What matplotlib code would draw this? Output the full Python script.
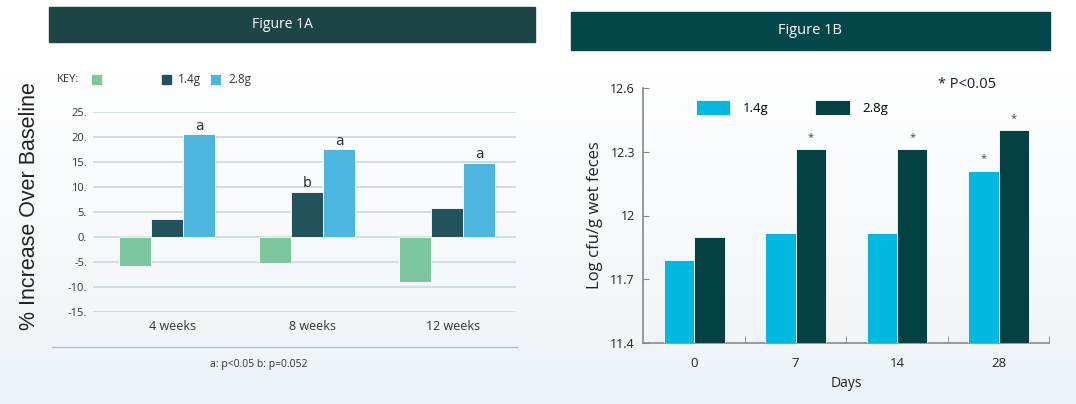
import numpy as np
import matplotlib
matplotlib.use("Agg")
import matplotlib.pyplot as plt
from matplotlib.patches import Rectangle
from matplotlib.lines import Line2D

plt.rcParams['font.family'] = ['Open Sans', 'DejaVu Sans']

# Figure 1A data: % increase over baseline
weeks = ["4 weeks", "8 weeks", "12 weeks"]
control = [-5.8, -5.3, -9.0]
dose_14 = [3.5, 9.0, 5.7]
dose_28 = [20.5, 17.5, 14.8]
marks_14 = ["", "b", ""]
marks_28 = ["a", "a", "a"]
yticks_a = [-15, -10, -5, 0, 5, 10, 15, 20, 25]

# Figure 1B data: log cfu/g wet feces
days = ["0", "7", "14", "28"]
log_14 = [11.79, 11.92, 11.92, 12.21]
log_28 = [11.90, 12.31, 12.31, 12.40]
star_14 = ["", "", "", "*"]
star_28 = ["", "*", "*", "*"]
yticks_b = [11.4, 11.7, 12.0, 12.3, 12.6]
yticklabels_b = ["11.4", "11.7", "12", "12.3", "12.6"]

W, H = 1076, 404
fig = plt.figure(figsize=(W / 100, H / 100), dpi=100)


def box(x0, y0, x1, y1):
    # pixel box (top-left origin) -> figure fraction rect
    return [x0 / W, 1 - y1 / H, (x1 - x0) / W, (y1 - y0) / H]


# soft background gradient
bg = fig.add_axes([0, 0, 1, 1], zorder=-10)
grad = np.linspace(0, 1, 256).reshape(-1, 1)
top = np.array([1.0, 1.0, 1.0])
bot = np.array([0.93, 0.95, 0.965])
img = top + (bot - top) * grad[..., None] ** 1.5
bg.imshow(img * np.ones((1, 2, 1)), aspect="auto", extent=[0, 1, 0, 1])
bg.set_axis_off()

# header bands
fig.patches.append(Rectangle((49 / W, 1 - 42 / H), (535 - 49) / W, 35 / H,
                             transform=fig.transFigure, color="#1c4646", zorder=1))
fig.text(282 / W, 1 - 25 / H, "Figure 1A", color="white", fontsize=10,
         ha="center", va="center")
fig.patches.append(Rectangle((571 / W, 1 - 50 / H), (1050 - 571) / W, 38 / H,
                             transform=fig.transFigure, color="#04474a", zorder=1))
fig.text(810 / W, 1 - 30 / H, "Figure 1B", color="white", fontsize=10.5,
         ha="center", va="center")

# ---- Figure 1A ----
c_green, c_dark, c_blue = "#7cc79e", "#22535b", "#4db6df"
ax = fig.add_axes(box(92.7, 111.7, 516, 311.7))
ax.set_facecolor("none")
x = np.arange(len(weeks))
w = 0.229
ax.bar(x - w, control, w, color=c_green, edgecolor="white", linewidth=0.6, zorder=3)
ax.bar(x, dose_14, w, color=c_dark, edgecolor="white", linewidth=0.6, zorder=3)
ax.bar(x + w, dose_28, w, color=c_blue, edgecolor="white", linewidth=0.6, zorder=3)
for i in range(len(weeks)):
    if marks_14[i]:
        ax.text(x[i], dose_14[i] + 0.3, marks_14[i], ha="center", va="bottom",
                fontsize=10, family="DejaVu Sans", color="#333333")
    if marks_28[i]:
        ax.text(x[i] + w, dose_28[i] + 0.3, marks_28[i], ha="center", va="bottom",
                fontsize=10, family="DejaVu Sans", color="#333333")
ax.set_xlim(-0.53, 2.49)
ax.set_ylim(-15, 25)
ax.set_yticks(yticks_a)
ax.set_yticklabels([f"{v}." for v in yticks_a], fontsize=8, color="#333333")
ax.set_xticks(x + 0.04)
ax.set_xticklabels(weeks, fontsize=9, color="#333333")
ax.tick_params(length=0, pad=6)
ax.tick_params(axis="y", pad=4)
ax.grid(axis="y", color="#ccd8de", linewidth=1.2, zorder=0)
for s in ax.spines.values():
    s.set_visible(False)
ax.set_ylabel("% Increase Over Baseline", family="Liberation Sans", fontsize=15.5,
              color="#222222")
ax.yaxis.set_label_coords(-0.125, 0.53)

# key row
fig.text(57 / W, 1 - 79 / H, "KEY:", fontsize=8, va="center", color="#333333")
for xs, col in [(92, c_green), (162, c_dark), (211, c_blue)]:
    fig.patches.append(Rectangle((xs / W, 1 - 83.5 / H), 8.5 / W, 8.5 / H,
                                 transform=fig.transFigure, color=col))
fig.text(178 / W, 1 - 79 / H, "1.4g", fontsize=8.5, va="center", color="#333333")
fig.text(228 / W, 1 - 79 / H, "2.8g", fontsize=8.5, va="center", color="#333333")

fig.lines.append(Line2D([52 / W, 517 / W], [1 - 347 / H, 1 - 347 / H],
                        transform=fig.transFigure, color="#b5bec4", linewidth=1))
fig.text(259 / W, 1 - 364 / H, "a: p<0.05 b: p=0.052", fontsize=7.5,
         ha="center", va="center", color="#333333")

# ---- Figure 1B ----
c_cyan, c_teal = "#00b8e0", "#034143"
bx = fig.add_axes(box(643.3, 87.7, 1049.3, 343.3))
bx.set_facecolor("none")
xd = np.arange(len(days))
bw = 0.30
bx.bar(xd - bw / 2, np.array(log_14) - 11.4, bw, bottom=11.4, color=c_cyan,
       edgecolor="white", linewidth=0.6, label="1.4g", zorder=3)
bx.bar(xd + bw / 2, np.array(log_28) - 11.4, bw, bottom=11.4, color=c_teal,
       edgecolor="white", linewidth=0.6, label="2.8g", zorder=3)
for i in range(len(days)):
    if star_14[i]:
        bx.text(xd[i] - bw / 2, log_14[i] + 0.03, star_14[i], ha="center",
                va="bottom", fontsize=8, color="#444444")
    if star_28[i]:
        bx.text(xd[i] + bw / 2, log_28[i] + 0.03, star_28[i], ha="center",
                va="bottom", fontsize=8, color="#444444")
bx.set_xlim(-0.5, 3.5)
bx.set_ylim(11.4, 12.6)
bx.set_yticks(yticks_b)
bx.set_yticklabels(yticklabels_b, fontsize=9, color="#222222")
bx.set_xticks(xd)
bx.set_xticklabels(days, fontsize=9.5, color="#222222")
bx.set_xticks(xd + 0.5, minor=True)
bx.tick_params(axis="x", which="major", length=0, pad=10)
bx.tick_params(axis="x", which="minor", direction="in", length=5, color="#888888")
bx.tick_params(axis="y", direction="in", length=4, color="#888888", pad=6)
for s in ["top", "right"]:
    bx.spines[s].set_visible(False)
for s in ["left", "bottom"]:
    bx.spines[s].set_color("#888888")
    bx.spines[s].set_linewidth(1.2)
bx.set_ylabel("Log cfu/g wet feces", fontsize=12, color="#222222")
bx.yaxis.set_label_coords(-0.10, 0.5)
bx.set_xlabel("Days", fontsize=10, color="#222222", labelpad=4)
bx.legend(loc="upper left", bbox_to_anchor=(0.1, 1.0), ncol=2, frameon=False,
          fontsize=9.5, handlelength=2.6, handleheight=1.4, columnspacing=3.5,
          handletextpad=1.0)
fig.text(938 / W, 1 - 84 / H, "* P<0.05", fontsize=10.5, va="center",
         color="#1a1a2e")

fig.savefig("out.png", dpi=100)
